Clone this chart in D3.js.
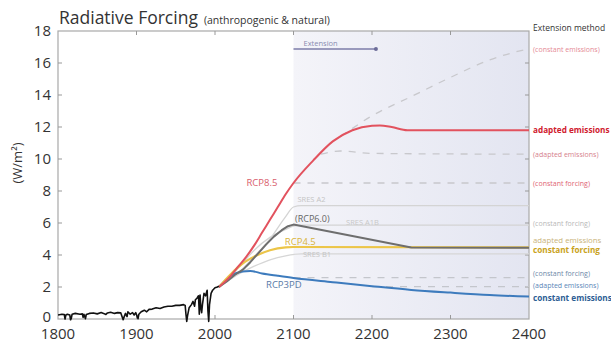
<!DOCTYPE html>
<html><head><meta charset="utf-8">
<script src="https://cdn.jsdelivr.net/npm/d3@7"></script>
<style>
html,body{margin:0;padding:0;background:#fff;}
svg{display:block;font-family:"Open Sans",sans-serif;}
</style></head>
<body><svg id="c" width="611" height="349"></svg>
<script>
// ---- data ----
const xTicks = [1800,1900,2000,2100,2200,2300,2400];
const yTicks = [0,2,4,6,8,10,12,14,16,18];
const histYears = [1800,1805,1808,1809,1810,1812,1815,1816,1817,1818,1822,1828,1831,1832,1833,1835,1836,1840,1845,1850,1855,1858,1861,1863,1867,1872,1876,1880,1883,1884,1886,1888,1889,1892,1895,1897,1899,1902,1903,1906,1910,1913,1916,1920,1925,1930,1935,1940,1945,1950,1955,1960,1962,1963,1964,1965,1967,1970,1972,1974,1975,1977,1979,1980,1981,1982,1983,1984,1986,1988,1990,1991,1992,1993,1995,1997,2000,2003,2005];
const histValues = [0.25,0.3,0.28,0.0,0.25,0.3,0.25,-0.05,0.05,0.3,0.35,0.3,0.32,0.1,0.3,0.02,0.28,0.35,0.38,0.32,0.4,0.35,0.28,0.38,0.42,0.35,0.4,0.38,-0.05,0.1,0.35,0.15,0.45,0.3,0.4,0.25,0.4,0.02,0.3,0.45,0.55,0.45,0.6,0.62,0.7,0.66,0.75,0.8,0.8,0.85,0.85,0.9,0.85,0.3,-0.15,0.2,0.7,0.9,1.1,0.8,1.2,1.3,1.45,0.3,1.5,0.7,0.4,0.9,1.6,1.45,1.8,0.5,-0.15,0.9,1.6,1.8,1.95,2.0,2.05];

const rcp85Years = [2005,2020,2030,2040,2050,2060,2070,2080,2090,2100,2125,2150,2175,2200,2210,2225,2245,2400];
const rcp85Values = [2.0,2.7,3.3,3.9,4.6,5.4,6.2,7.0,7.8,8.5,9.9,11.1,11.8,12.08,12.1,12.0,11.8,11.8];
const rcp85ConstEmYears = [2160,2200,2250,2300,2350,2400];
const rcp85ConstEmValues = [11.4,12.7,13.9,15.1,16.2,16.9];
const rcp85AdaptYears = [2135,2160,2200,2400];
const rcp85AdaptValues = [10.3,10.5,10.35,10.3];
const rcp85ConstFYears = [2100,2400];
const rcp85ConstFValues = [8.5,8.5];

const sresA2Years = [2005,2030,2050,2070,2090,2100,2110,2400];
const sresA2Values = [2.0,2.9,3.9,5.0,6.4,7.0,7.08,7.08];
const sresA1BYears = [2005,2030,2050,2070,2090,2100,2110,2400];
const sresA1BValues = [2.0,3.2,4.3,5.1,5.6,5.8,5.87,5.87];
const sresB1Years = [2005,2030,2050,2070,2090,2110,2400];
const sresB1Values = [2.0,2.8,3.3,3.7,3.95,4.07,4.07];

const rcp60Years = [2005,2015,2025,2036,2045,2055,2065,2075,2085,2093,2100,2250,2400];
const rcp60Values = [2.0,2.35,2.75,3.1,3.55,4.1,4.65,5.15,5.55,5.8,5.9,4.47,4.45];
const rcp45Years = [2005,2020,2036,2050,2070,2090,2100,2400];
const rcp45Values = [2.0,2.8,3.5,3.9,4.3,4.48,4.5,4.48];

const rcp3Years = [2005,2020,2035,2045,2060,2080,2100,2150,2200,2250,2300,2350,2400];
const rcp3Values = [2.0,2.7,2.97,3.0,2.85,2.7,2.56,2.3,2.05,1.82,1.65,1.5,1.4];
const rcp3ConstFYears = [2100,2400];
const rcp3ConstFValues = [2.58,2.58];
const rcp3AdaptYears = [2200,2400];
const rcp3AdaptValues = [2.02,2.02];

const extensionRange = [2100,2205];
const extensionLabel = "Extension";

const rightLabels = ["(constant emissions)","adapted emissions","(adapted emissions)","(constant forcing)","(constant forcing)","adapted emissions","constant forcing","(constant forcing)","(adapted emissions)","constant emissions"];
const rightLabelValues = [16.9,11.8,10.3,8.5,6.0,4.95,4.3,2.9,2.1,1.3];

// ---- drawing ----
const svg = d3.select("#c");
const W=611,H=349;
const m={l:58,r:82,t:31,b:30};
const x = d3.scaleLinear().domain([1800,2400]).range([m.l, W-m.r]);
const y = d3.scaleLinear().domain([0,18]).range([H-m.b, m.t]);
const zip=(a,b)=>a.map((v,i)=>[v,b[i]]);

const defs = svg.append("defs");
const g = defs.append("linearGradient").attr("id","ext").attr("x1","0").attr("x2","1");
g.append("stop").attr("offset","0").attr("stop-color","#f4f4f9");
g.append("stop").attr("offset","1").attr("stop-color","#e3e5f1");
defs.append("clipPath").attr("id","clip").append("rect")
  .attr("x",m.l).attr("y",m.t).attr("width",x(2400)-m.l).attr("height",y(0)-m.t+8);

// extension shading
svg.append("rect").attr("x",x(2100)).attr("y",y(18)).attr("width",x(2400)-x(2100)).attr("height",y(0)-y(18)).attr("fill","url(#ext)");

// frame
svg.append("rect").attr("x",m.l).attr("y",y(18)).attr("width",x(2400)-m.l).attr("height",y(0)-y(18))
  .attr("fill","none").attr("stroke","#a8a8a8").attr("stroke-width",1.2);

// ticks inward
const tk = svg.append("g").attr("stroke","#999").attr("stroke-width",1);
xTicks.slice(1,-1).forEach(t=>{
  tk.append("line").attr("x1",x(t)).attr("x2",x(t)).attr("y1",y(18)).attr("y2",y(18)+4);
  tk.append("line").attr("x1",x(t)).attr("x2",x(t)).attr("y1",y(0)).attr("y2",y(0)-4);
});
yTicks.slice(1,-1).forEach(t=>{
  tk.append("line").attr("x1",m.l).attr("x2",m.l+4).attr("y1",y(t)).attr("y2",y(t));
  tk.append("line").attr("x1",x(2400)).attr("x2",x(2400)-4).attr("y1",y(t)).attr("y2",y(t));
});

// axis labels
svg.append("g").selectAll("text").data(xTicks).join("text")
  .attr("x",d=>x(d)).attr("y",H-10).attr("text-anchor","middle")
  .attr("font-size",15).attr("fill","#333").text(d=>d);
svg.append("g").selectAll("text").data(yTicks).join("text")
  .attr("x",m.l-7).attr("y",d=>y(d)+(d===0?3:5)).attr("text-anchor","end")
  .attr("font-size",15).attr("fill","#333").text(d=>d);

svg.append("text").attr("transform",`translate(22,${(y(0)+y(18))/2-12}) rotate(-90)`)
  .attr("text-anchor","middle").attr("font-size",13).attr("fill","#333").text("(W/m²)");

// title
const tt = svg.append("text").attr("x",m.l+1).attr("y",24).attr("fill","#333");
tt.append("tspan").attr("font-size",17.5).text("Radiative Forcing");
tt.append("tspan").attr("font-size",10.5).attr("dx",6).text("(anthropogenic & natural)");

// extension arrow
svg.append("line").attr("x1",x(extensionRange[0])).attr("x2",x(extensionRange[1]))
  .attr("y1",49).attr("y2",49).attr("stroke","#7c7ca8").attr("stroke-width",1.5);
svg.append("circle").attr("cx",x(extensionRange[1])).attr("cy",49).attr("r",2).attr("fill","#6c6c98");
svg.append("text").attr("x",x(extensionRange[0])+10).attr("y",46).attr("font-size",7.5).attr("fill","#8a8cb0").text(extensionLabel);

const line = d3.line().x(d=>x(d[0])).y(d=>y(d[1])).curve(d3.curveMonotoneX);
const lineL = d3.line().x(d=>x(d[0])).y(d=>y(d[1]));
const plot = svg.append("g").attr("clip-path","url(#clip)").attr("fill","none");

function draw(ys,vs,color,w,dash,gen){
  const p = plot.append("path").attr("d",(gen||line)(zip(ys,vs))).attr("stroke",color).attr("stroke-width",w)
    .attr("stroke-linejoin","round").attr("stroke-linecap","butt");
  if(dash) p.attr("stroke-dasharray",dash);
}
// dashed extensions
draw(rcp85ConstEmYears,rcp85ConstEmValues,"#c8c8cc",1.3,"7,7");
draw(rcp85AdaptYears,rcp85AdaptValues,"#c8c8cc",1.3,"7,7");
draw(rcp85ConstFYears,rcp85ConstFValues,"#c8c8cc",1.3,"7,7");
draw(rcp3ConstFYears,rcp3ConstFValues,"#c4c6cc",1.3,"7,7");
draw(rcp3AdaptYears,rcp3AdaptValues,"#c4c6cc",1.3,"7,7");
// SRES
draw(sresA2Years,sresA2Values,"#d4d4d4",1.3);
draw(sresA1BYears,sresA1BValues,"#d4d4d4",1.3);
draw(sresB1Years,sresB1Values,"#d6d6d6",1.3);
// RCPs
draw(rcp3Years,rcp3Values,"#3d7bbd",2);
draw(rcp45Years,rcp45Values,"#ecc548",2.2);
draw(rcp60Years,rcp60Values,"#6e6e6e",2,null,lineL);
draw(rcp85Years,rcp85Values,"#e2525e",2);
// history
draw(histYears,histValues,"#111",1.6,null,lineL);

// curve labels
const cl=[["RCP8.5",2040,8.3,"#d9606c",9.5],["SRES A2",2105,7.3,"#c4c4c4",7.5],["(RCP6.0)",2102,6.05,"#666",9],
["SRES A1B",2167,5.9,"#c8c8c8",7.5],["RCP4.5",2089,4.6,"#d9b43c",9.5],["SRES B1",2112,3.9,"#c4c4c4",7.5],["RCP3PD",2065,1.95,"#5a7aa6",9.5]];
svg.append("g").selectAll("text").data(cl).join("text")
  .attr("x",d=>x(d[1])).attr("y",d=>y(d[2])).attr("font-size",d=>d[4]).attr("fill",d=>d[3]).text(d=>d[0]);

// right labels
svg.append("text").attr("x",W-m.r+4).attr("y",31).attr("font-size",8.5).attr("fill","#333").text("Extension method");
const rc=["#e58a96","#d0202e","#d5808c","#e06474","#b8b8b8","#c9b37a","#c9a220","#6e88a8","#5a86b8","#2d5e94"];
const rb=[false,true,false,false,false,false,true,false,false,true];
svg.append("g").selectAll("text").data(rightLabels).join("text")
  .attr("x",W-m.r+4).attr("y",(d,i)=>y(rightLabelValues[i])+3)
  .attr("font-size",(d,i)=>rb[i]?8.2:(i===5?7.8:7)).attr("font-weight",(d,i)=>rb[i]?"bold":"normal")
  .attr("fill",(d,i)=>rc[i]).text(d=>d);
</script></body></html>
